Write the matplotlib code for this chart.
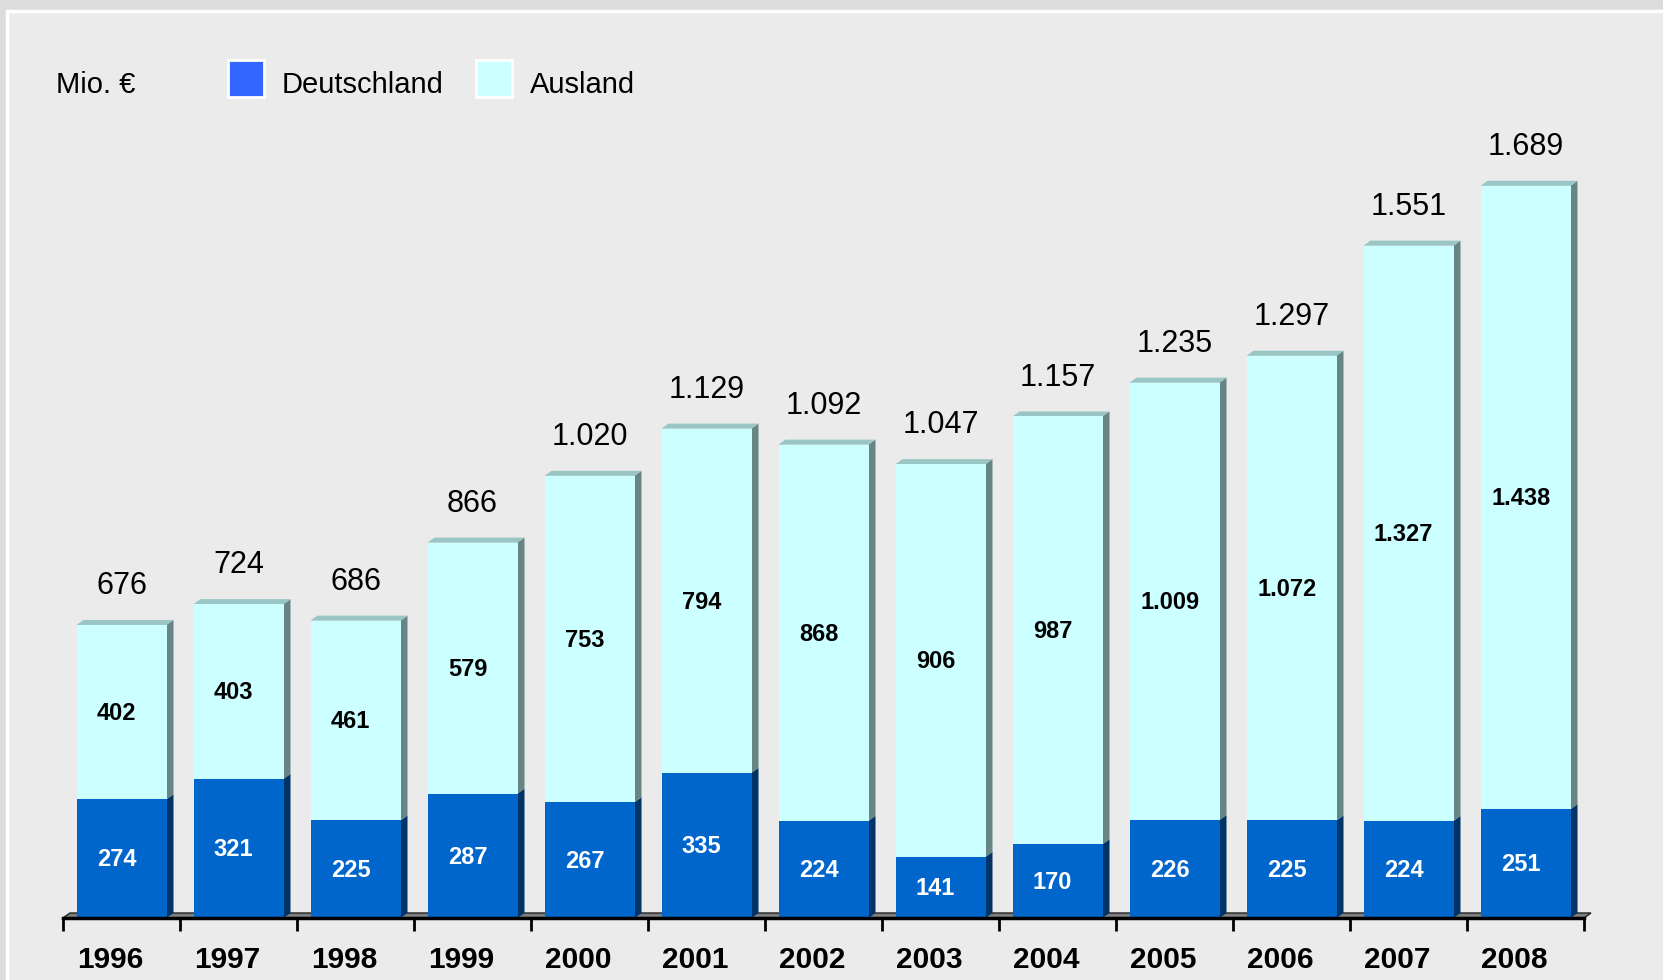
import matplotlib
matplotlib.use('Agg')
import matplotlib.pyplot as plt
from matplotlib.patches import Polygon, Rectangle
from matplotlib.transforms import ScaledTranslation
import numpy as np

years = ['1996', '1997', '1998', '1999', '2000', '2001', '2002',
         '2003', '2004', '2005', '2006', '2007', '2008']
deutschland = [274, 321, 225, 287, 267, 335, 224, 141, 170, 226, 225, 224, 251]
ausland = [402, 403, 461, 579, 753, 794, 868, 906, 987, 1009, 1072, 1327, 1438]
totals = [676, 724, 686, 866, 1020, 1129, 1092, 1047, 1157, 1235, 1297, 1551, 1689]

def fmt(v):
    return f"{v:,}".replace(',', '.')

plt.rcParams['font.family'] = ['Liberation Sans', 'DejaVu Sans']

W, H = 1663, 980
fig = plt.figure(figsize=(W / 100, H / 100), dpi=100)
fig.patch.set_facecolor('#dcdcdc')
fig.patches.append(Rectangle((7 / W, -0.1), 1.2, 1 - 10.6 / H + 0.1,
                             transform=fig.transFigure, facecolor='#ebebeb',
                             edgecolor='white', lw=2.5, zorder=-5))

# axes geometry (pixels)
x_left, x_right = 63, 1584
y_base, y_top = 918, 100
ppu = 0.4335  # pixels per value unit
ymax = (y_base - y_top) / ppu
ax = fig.add_axes([x_left / W, (H - y_base) / H, (x_right - x_left) / W, (y_base - y_top) / H])
ax.set_zorder(2)
ax.set_facecolor('none')
n = len(years)
ax.set_xlim(-0.5, n - 0.5)
ax.set_ylim(0, ymax)

xpx = (x_right - x_left) / n
dx = 7 / xpx
dy = 5 / ppu
bw = 90 / xpx

x = np.arange(n)
de = np.array(deutschland)
au = np.array(ausland)
tot = de + au

# floor
floor = Polygon([(-0.5, 0), (n - 0.5, 0), (n - 0.5 + dx, dy), (-0.5 + dx, dy)],
                closed=True, facecolor='#7f7f7f', edgecolor='#222222', lw=1, zorder=1,
                clip_on=False)
ax.add_patch(floor)

ax.bar(x, de, width=bw, color='#0066cc', zorder=3, linewidth=0)
ax.bar(x, au, bottom=de, width=bw, color='#ccffff', zorder=3, linewidth=0)

for xi, d, t in zip(x, de, tot):
    x0, x1 = xi - bw / 2, xi + bw / 2
    ax.add_patch(Polygon([(x1, 0), (x1 + dx, dy), (x1 + dx, d + dy), (x1, d)],
                         closed=True, facecolor='#003366', lw=0, zorder=2.5, clip_on=False))
    ax.add_patch(Polygon([(x1, d), (x1 + dx, d + dy), (x1 + dx, t + dy), (x1, t)],
                         closed=True, facecolor='#668584', lw=0, zorder=2.5, clip_on=False))
    ax.add_patch(Polygon([(x0, t), (x0 + dx, t + dy), (x1 + dx, t + dy), (x1, t)],
                         closed=True, facecolor='#99c6c4', lw=0, zorder=2.5, clip_on=False))

for xi, d, a, t in zip(x, de, au, totals):
    ax.annotate(fmt(d), (xi, d / 2), xytext=(-3.5, -1), textcoords='offset points',
                ha='center', va='center', color='white',
                fontsize=17, fontweight='bold', zorder=5)
    ax.annotate(fmt(a), (xi, d + a / 2), xytext=(-3.5, -1), textcoords='offset points',
                ha='center', va='center', color='black',
                fontsize=17, fontweight='bold', zorder=5)
    ax.annotate(fmt(t), (xi, t), xytext=(0, 28), textcoords='offset points',
                ha='center', va='center', fontsize=22, color='black', zorder=5)

# axis styling
for s in ['top', 'right', 'left']:
    ax.spines[s].set_visible(False)
ax.spines['bottom'].set_linewidth(2.5)
ax.spines['bottom'].set_zorder(4)
ax.set_yticks([])
ax.set_xticks(x)
ax.set_xticklabels(years, fontsize=21.5, fontweight='bold')
ax.tick_params(axis='x', which='major', length=0, pad=20)
shift = ScaledTranslation(-11 / 100, 0, fig.dpi_scale_trans)
for lab in ax.get_xticklabels():
    lab.set_transform(lab.get_transform() + shift)
ax.set_xticks(np.arange(-0.5, n, 1.0), minor=True)
ax.tick_params(axis='x', which='minor', length=9, width=2, direction='out')

# legend / unit label
yc = 1 - 85 / H
fig.text(56 / W, yc, 'Mio. €', fontsize=21, va='center', ha='left')
fig.patches.append(Rectangle((228 / W, 1 - 97 / H), 36 / W, 37 / H, transform=fig.transFigure,
                             facecolor='#3366ff', edgecolor='white', lw=2, zorder=2))
fig.text(282 / W, yc, 'Deutschland', fontsize=21, va='center', ha='left')
fig.patches.append(Rectangle((476 / W, 1 - 97 / H), 36 / W, 37 / H, transform=fig.transFigure,
                             facecolor='#ccffff', edgecolor='white', lw=2, zorder=2))
fig.text(530 / W, yc, 'Ausland', fontsize=21, va='center', ha='left')

fig.savefig('out.png', dpi=100, facecolor=fig.get_facecolor())
